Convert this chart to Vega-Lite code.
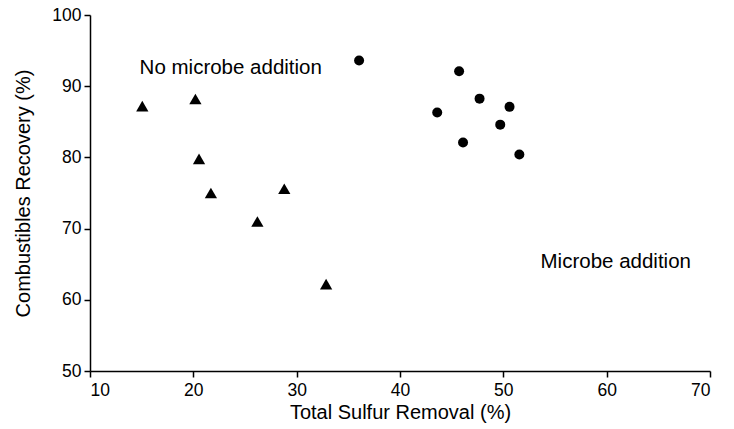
{
  "$schema": "https://vega.github.io/schema/vega-lite/v6.json",
  "autosize": "none",
  "width": 620,
  "height": 356,
  "padding": {"left": 90, "top": 15, "right": 24, "bottom": 58},
  "background": "white",
  "config": {
    "view": {"stroke": null},
    "font": "Liberation Sans",
    "axis": {
      "grid": false,
      "domainColor": "black",
      "domainWidth": 1.5,
      "tickColor": "black",
      "tickWidth": 1.5,
      "tickSize": 6,
      "labelColor": "black",
      "labelFontSize": 17.5,
      "labelFont": "Liberation Sans",
      "titleColor": "black",
      "titleFontSize": 20,
      "titleFont": "Liberation Sans",
      "titleFontWeight": "normal"
    }
  },
  "datasets": {
    "points": [
      {"sulfur": 15.06, "recovery": 87.2, "group": "No microbe addition"},
      {"sulfur": 20.2, "recovery": 88.2, "group": "No microbe addition"},
      {"sulfur": 20.55, "recovery": 79.8, "group": "No microbe addition"},
      {"sulfur": 21.7, "recovery": 75.0, "group": "No microbe addition"},
      {"sulfur": 28.8, "recovery": 75.6, "group": "No microbe addition"},
      {"sulfur": 26.2, "recovery": 71.0, "group": "No microbe addition"},
      {"sulfur": 32.85, "recovery": 62.2, "group": "No microbe addition"},
      {"sulfur": 36.04, "recovery": 93.6, "group": "Microbe addition"},
      {"sulfur": 45.72, "recovery": 92.1, "group": "Microbe addition"},
      {"sulfur": 47.7, "recovery": 88.25, "group": "Microbe addition"},
      {"sulfur": 50.6, "recovery": 87.1, "group": "Microbe addition"},
      {"sulfur": 43.6, "recovery": 86.3, "group": "Microbe addition"},
      {"sulfur": 49.7, "recovery": 84.6, "group": "Microbe addition"},
      {"sulfur": 46.1, "recovery": 82.1, "group": "Microbe addition"},
      {"sulfur": 51.55, "recovery": 80.4, "group": "Microbe addition"}
    ],
    "labels": [
      {"sulfur": 14.8, "recovery": 92.6, "label": "No microbe addition"},
      {"sulfur": 53.6, "recovery": 65.3, "label": "Microbe addition"}
    ]
  },
  "layer": [
    {
      "data": {"name": "points"},
      "mark": {"type": "point", "filled": true, "opacity": 1, "color": "black"},
      "encoding": {
        "x": {
          "field": "sulfur", "type": "quantitative",
          "scale": {"domain": [10, 70], "nice": false, "zero": false},
          "axis": {"values": [10, 20, 30, 40, 50, 60, 70], "title": "Total Sulfur Removal (%)", "titlePadding": 4, "labelPadding": 4}
        },
        "y": {
          "field": "recovery", "type": "quantitative",
          "scale": {"domain": [50, 100], "nice": false, "zero": false},
          "axis": {"values": [50, 60, 70, 80, 90, 100], "title": "Combustibles Recovery (%)", "titlePadding": 18, "labelPadding": 3}
        },
        "shape": {
          "field": "group", "type": "nominal",
          "scale": {"domain": ["No microbe addition", "Microbe addition"], "range": ["triangle-up", "circle"]},
          "legend": null
        },
        "size": {
          "field": "group", "type": "nominal",
          "scale": {"domain": ["No microbe addition", "Microbe addition"], "range": [150, 100]},
          "legend": null
        }
      }
    },
    {
      "data": {"name": "labels"},
      "mark": {"type": "text", "align": "left", "baseline": "middle", "fontSize": 20.5, "color": "black", "font": "Liberation Sans"},
      "encoding": {
        "x": {"field": "sulfur", "type": "quantitative"},
        "y": {"field": "recovery", "type": "quantitative"},
        "text": {"field": "label"}
      }
    }
  ]
}
